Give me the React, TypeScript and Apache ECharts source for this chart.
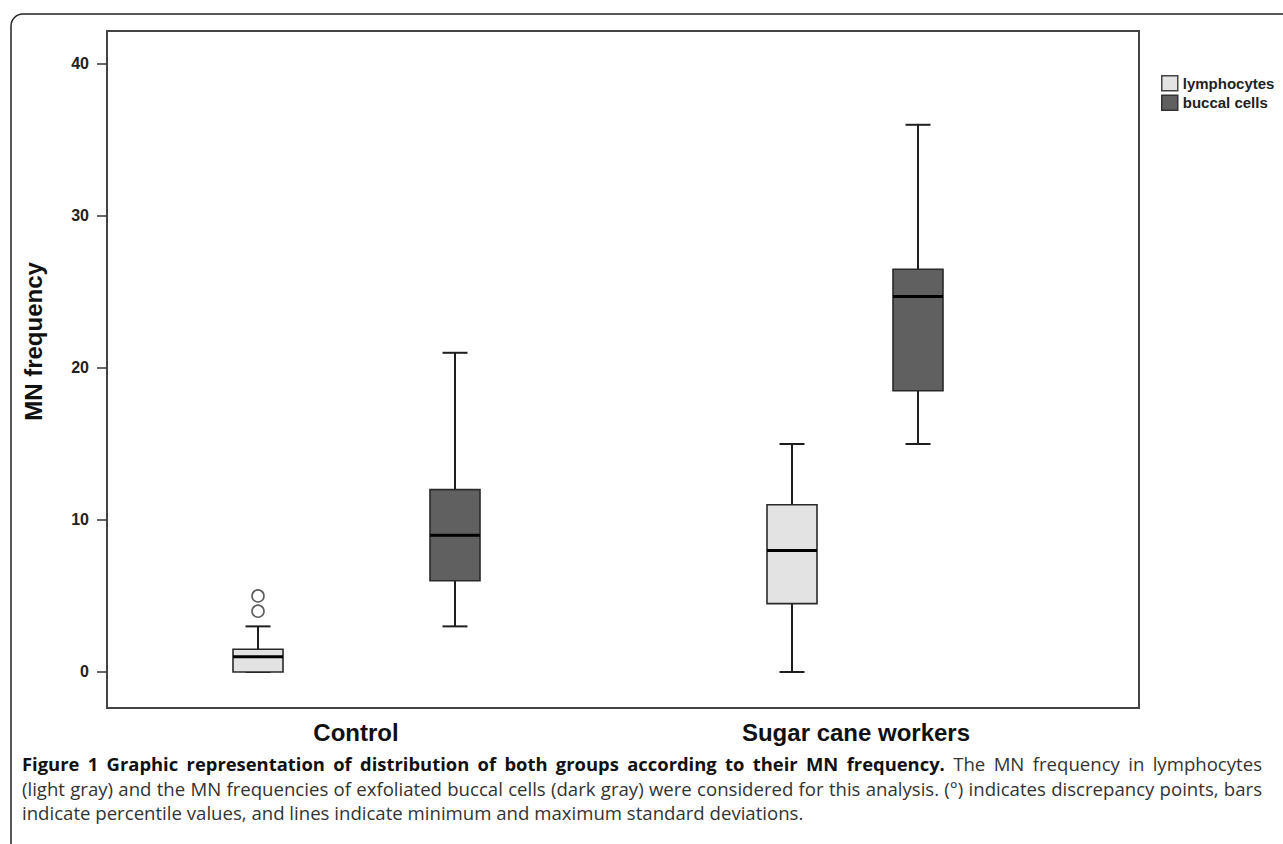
import React, { useEffect, useRef } from "react";
import * as echarts from "echarts";

const categories = ["Control", "Sugar cane workers"];
const yTicks = [0, 10, 20, 30, 40];
const seriesNames = ["lymphocytes", "buccal cells"];
// [min, Q1, median, Q3, max] per category
const lymphocytes = [
  [0, 0, 1, 1.5, 3],
  [0, 4.5, 8, 11, 15],
];
const buccalCells = [
  [3, 6, 9, 12, 21],
  [15, 18.5, 24.7, 26.5, 36],
];
// [category index, value]
const lymphOutliers = [
  [0, 4],
  [0, 5],
];

const captionBold =
  "Figure 1 Graphic representation of distribution of both groups according to their MN frequency.";
const captionLines = [
  "The MN frequency in lymphocytes",
  "(light gray) and the MN frequencies of exfoliated buccal cells (dark gray) were considered for this analysis. (°) indicates discrepancy points, bars",
  "indicate percentile values, and lines indicate minimum and maximum standard deviations.",
];

// layout: horizontal pixel shift of each box from its category centre
const LYMPH_SHIFT = [-107, -89];
const BUCCAL_SHIFT = [90, 37];
const LIGHT = "#e3e3e3";
const DARK = "#606060";

const CAP_FAMILY = "'Open Sans', 'Noto Sans', sans-serif";
const CAP_SIZE = 18.6;
const CAP_BOLD_SIZE = 18.4;

const makeRender = (shift: number[], fill: string) => (params: any, api: any) => {
  const cat = api.value(0);
  const pMin = api.coord([cat, api.value(1)]);
  const yQ1 = api.coord([cat, api.value(2)])[1];
  const yMed = api.coord([cat, api.value(3)])[1];
  const yQ3 = api.coord([cat, api.value(4)])[1];
  const yMax = api.coord([cat, api.value(5)])[1];
  const x = pMin[0] + shift[cat];
  const yMin = pMin[1];
  const hw = 25;
  const cw = 12.5;
  const ls = { stroke: "#1e1e1e", lineWidth: 2 };
  return {
    type: "group",
    children: [
      { type: "line", shape: { x1: x, y1: yQ3, x2: x, y2: yMax }, style: ls },
      { type: "line", shape: { x1: x - cw, y1: yMax, x2: x + cw, y2: yMax }, style: ls },
      { type: "line", shape: { x1: x, y1: yQ1, x2: x, y2: yMin }, style: ls },
      { type: "line", shape: { x1: x - cw, y1: yMin, x2: x + cw, y2: yMin }, style: ls },
      {
        type: "rect",
        shape: { x: x - hw, y: yQ3, width: 2 * hw, height: yQ1 - yQ3 },
        style: { fill, stroke: "#2a2a2a", lineWidth: 1.6 },
      },
      {
        type: "line",
        shape: { x1: x - hw, y1: yMed, x2: x + hw, y2: yMed },
        style: { stroke: "#000", lineWidth: 3 },
      },
    ],
  };
};

type Word = { t: string; bold: boolean };

function justify(words: Word[], x0: number, x1: number, y: number) {
  const ctx = document.createElement("canvas").getContext("2d");
  const widths = words.map((w) => {
    if (!ctx) return w.t.length * 9;
    ctx.font = w.bold
      ? `bold ${CAP_BOLD_SIZE}px 'Open Sans'`
      : `${CAP_SIZE}px 'Open Sans'`;
    return ctx.measureText(w.t).width;
  });
  const total = widths.reduce((a, b) => a + b, 0);
  const gap = (x1 - x0 - total) / Math.max(1, words.length - 1);
  let x = x0;
  return words.map((w, i) => {
    const el = {
      type: "text",
      x,
      y,
      silent: true,
      style: {
        text: w.t,
        fontFamily: CAP_FAMILY,
        fontWeight: w.bold ? "bold" : "normal",
        fontSize: w.bold ? CAP_BOLD_SIZE : CAP_SIZE,
        fill: w.bold ? "#111" : "#333",
        verticalAlign: "middle",
      },
    };
    x += widths[i] + gap;
    return el;
  });
}

export default function App() {
  const ref = useRef<HTMLDivElement>(null);
  useEffect(() => {
    if (!ref.current) return;
    const chart = echarts.init(ref.current, undefined, { renderer: "svg" });
    const arial = "'Liberation Sans', Arial, sans-serif";

    const line1: Word[] = [
      ...captionBold.split(" ").map((t) => ({ t, bold: true })),
      ...captionLines[0].split(" ").map((t) => ({ t, bold: false })),
    ];
    const line2: Word[] = captionLines[1].split(" ").map((t) => ({ t, bold: false }));

    chart.setOption({
      animation: false,
      backgroundColor: "#fff",
      grid: {
        left: 107,
        right: 144,
        top: 31,
        bottom: 136,
        show: true,
        borderColor: "#444",
        borderWidth: 2,
        backgroundColor: "transparent",
      },
      legend: {
        orient: "vertical",
        left: 1156,
        top: 70,
        itemWidth: 16,
        itemHeight: 15,
        itemGap: 3,
        icon: "rect",
        selectedMode: false,
        data: [
          { name: seriesNames[0], itemStyle: { color: LIGHT, borderColor: "#444", borderWidth: 1.5 } },
          { name: seriesNames[1], itemStyle: { color: DARK, borderColor: "#333", borderWidth: 1.5 } },
        ],
        textStyle: { fontFamily: arial, fontSize: 15, fontWeight: "bold", color: "#222" },
      },
      xAxis: {
        type: "category",
        data: categories,
        axisLine: { show: true, onZero: false, lineStyle: { color: "#444", width: 2 } },
        axisTick: { show: false },
        axisLabel: {
          margin: 12,
          color: "#111",
          fontFamily: arial,
          fontSize: 24,
          fontWeight: "bold",
          formatter: (v: string, i: number) => (i === 0 ? `{a|${v}}` : `{b|${v}}`),
          rich: {
            a: { fontFamily: arial, fontSize: 24, fontWeight: "bold", color: "#111", padding: [0, 18, 0, 0] },
            b: { fontFamily: arial, fontSize: 24, fontWeight: "bold", color: "#111", padding: [0, 50, 0, 0] },
          },
        },
      },
      yAxis: {
        type: "value",
        min: -2.37,
        max: 42.17,
        name: "MN frequency",
        nameLocation: "middle",
        nameGap: 62,
        nameTextStyle: {
          fontFamily: arial,
          fontSize: 24,
          fontWeight: "bold",
          color: "#111",
          padding: [0, 0, 0, 56],
        },
        splitLine: { show: false },
        axisLine: { show: true, onZero: false, lineStyle: { color: "#444", width: 2 } },
        axisTick: { show: true, length: 10, customValues: yTicks, lineStyle: { color: "#333", width: 1.5 } },
        axisLabel: {
          customValues: yTicks,
          margin: 18,
          fontFamily: arial,
          fontSize: 16,
          fontWeight: "bold",
          color: "#222",
        },
      },
      series: [
        {
          name: seriesNames[0],
          type: "custom",
          itemStyle: { color: LIGHT },
          encode: { x: 0, y: [1, 2, 3, 4, 5] },
          data: lymphocytes.map((v, i) => [i, ...v]),
          renderItem: makeRender(LYMPH_SHIFT, LIGHT),
        },
        {
          name: seriesNames[1],
          type: "custom",
          itemStyle: { color: DARK },
          encode: { x: 0, y: [1, 2, 3, 4, 5] },
          data: buccalCells.map((v, i) => [i, ...v]),
          renderItem: makeRender(BUCCAL_SHIFT, DARK),
        },
        {
          name: "outliers",
          type: "scatter",
          symbol: "circle",
          symbolSize: 12,
          symbolOffset: [LYMPH_SHIFT[0], 0],
          itemStyle: { color: "#fff", borderColor: "#333", borderWidth: 1.6 },
          data: lymphOutliers,
        },
      ],
      graphic: [
        {
          type: "rect",
          shape: { x: 11, y: 14, width: 1400, height: 900, r: [12, 0, 0, 0] },
          style: { fill: "none", stroke: "#222", lineWidth: 1.5 },
          silent: true,
        },
        ...justify(line1, 22, 1262, 763),
        ...justify(line2, 22, 1262, 788),
        {
          type: "text",
          x: 22,
          y: 812,
          silent: true,
          style: {
            text: captionLines[2],
            fontFamily: CAP_FAMILY,
            fontSize: CAP_SIZE,
            fill: "#333",
            verticalAlign: "middle",
          },
        },
      ],
    });
    return () => chart.dispose();
  }, []);
  return (
    <div
      ref={ref}
      style={{ position: "fixed", left: 0, top: 0, width: 1283, height: 844, background: "#fff" }}
    />
  );
}
